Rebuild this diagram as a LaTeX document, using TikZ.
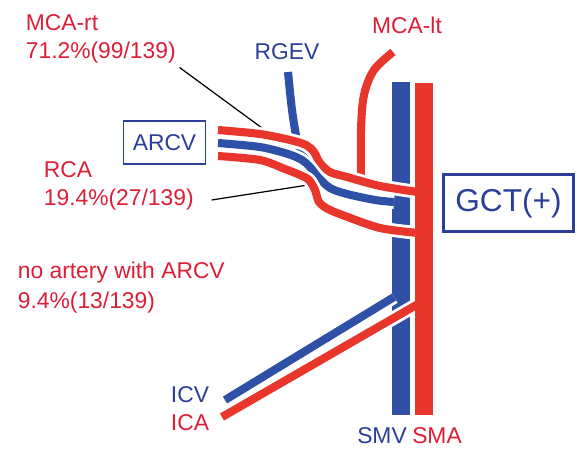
\documentclass[tikz,border=0pt]{standalone}
\usepackage{fontspec}
\setsansfont{Liberation Sans}
\usepackage{tikz}
\usetikzlibrary{positioning}
\definecolor{vred}{HTML}{E8362C}
\definecolor{vblue}{HTML}{2E50A6}
\definecolor{tred}{HTML}{DC1F36}
\definecolor{tblue}{HTML}{2B3E98}
\tikzset{
  lbl/.style={font=\sffamily\fontsize{13}{15}\selectfont, inner sep=2pt},
  redlbl/.style={lbl, text=tred},
  bluelbl/.style={lbl, text=tblue},
  branch/.style={line width=4.6pt, preaction={draw=white, line width=7.8pt}},
  artery/.style={branch, vred},
  vein/.style={branch, vblue},
  trunk/.style={line width=9.7pt},
  leader/.style={black, line width=0.7pt},
}

\begin{document}
\begin{tikzpicture}[x=0.02cm, y=-0.02cm]

  \useasboundingbox (0,0) rectangle (577,450);

  %% Labels on the left
  \node[redlbl, anchor=west] (mcartName) at (22,23) {MCA-rt};
  \node[redlbl, anchor=west] (mcartVal) at (22,53) {71.2\%(99/139)};
  \node[redlbl, anchor=west] (rcaName) at (40,170) {RCA};
  \node[redlbl, anchor=west] (rcaVal) at (40,200) {19.4\%(27/139)};
  \node[redlbl, anchor=west] (noartName) at (14,273) {no artery with ARCV};
  \node[redlbl, anchor=west] (noartVal) at (14,303) {9.4\%(13/139)};

  \node[bluelbl, draw=tblue, line width=0.8pt, minimum width=47pt, minimum height=24.5pt]
    (arcv) at (164.5,142.5) {ARCV};
  \node[bluelbl] (rgev) at (287,52) {RGEV};
  \node[redlbl] (mcalt) at (407,25) {MCA-lt};
  \node[bluelbl, draw=tblue, line width=1.7pt, font=\sffamily\fontsize{18}{20}\selectfont,
    minimum width=74.5pt, minimum height=31.9pt] (gct) at (508.5,203) {GCT(+)};

  %% Labels at the bottom
  \node[bluelbl] (icv) at (190,395) {ICV};
  \node[redlbl] (ica) at (190,423) {ICA};
  \node[bluelbl] (smvlbl) at (382,436) {SMV};
  \node[redlbl] (smalbl) at (437,436) {SMA};

  %% Leader lines
  \coordinate (mcartTip) at (262,128);
  \coordinate (rcaTip) at (308,185);
  \draw[leader] (mcartVal.south east) -- (mcartTip);
  \draw[leader] ([xshift=8pt]rcaVal.east) -- (rcaTip);

  %% SMV
  \draw[vblue, trunk] (401,82) -- (401,415);

  %% branches
  \draw[vein] plot[smooth, tension=0.5] coordinates
    {(288,72) (292,110) (297,140) (303,155) (310,167)};
  \draw[artery] plot[smooth, tension=0.55] coordinates
    {(393,52) (374,70) (364,95) (361,130) (361,180)};
  \draw[vein] (225,400) -- (394,297);
  \draw[artery] (222,417) -- (425,300);

  %% ARCV trunk
  \draw[artery] plot[smooth, tension=0.5] coordinates
    {(218,130) (260,134) (290,140) (306,145) (314,152) (320,163) (330,172) (347,177) (380,186) (418,192)};
  \draw[vein] plot[smooth, tension=0.5] coordinates
    {(218,143) (260,147) (288,154) (302,160) (310,167) (318,177) (330,188) (347,194) (375,200) (394,202)};
  \draw[artery] plot[smooth, tension=0.5] coordinates
    {(218,156) (260,160) (285,169) (300,175) (309,180) (315,190) (319,202) (328,209) (345,216) (380,228) (418,233)};

  %% SMA
  \draw[vred, trunk] (424,83) -- (424,415);

\end{tikzpicture}
\end{document}
